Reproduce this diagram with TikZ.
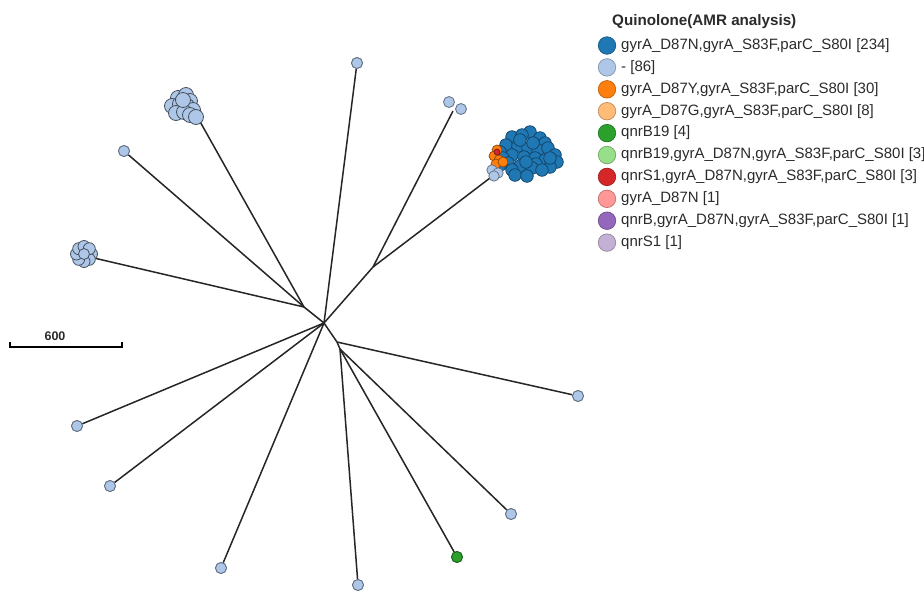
\documentclass[tikz,border=0pt]{standalone}
\usepackage{fontspec}
\setmainfont{Liberation Sans}
\usetikzlibrary{calc}
\definecolor{cA}{HTML}{1F77B4}
\definecolor{cB}{HTML}{AEC7E8}
\definecolor{cC}{HTML}{FF7F0E}
\definecolor{cD}{HTML}{FFBB78}
\definecolor{cE}{HTML}{2CA02C}
\definecolor{cF}{HTML}{98DF8A}
\definecolor{cG}{HTML}{D62728}
\definecolor{cH}{HTML}{FF9896}
\definecolor{cI}{HTML}{9467BD}
\definecolor{cJ}{HTML}{C5B0D5}
\definecolor{txt}{HTML}{2B2B2B}
\begin{document}
\begin{tikzpicture}[x=1pt,y=-1pt,
  branch/.style={draw=black!85,line width=1.5pt},
  leaf/.style={circle,fill=cB,draw=cB!55!black,line width=0.8pt,minimum size=11pt,inner sep=0pt},
  greenleaf/.style={leaf,fill=cE,draw=cE!60!black},
  dot/.style={fill=#1,draw=#1!55!black,line width=0.7pt},
  greydot/.style={fill=cB,draw=cB!40!black,line width=0.8pt},
  keydot/.style={circle,fill=#1,draw=#1!75!black,line width=0.7pt,minimum size=17.5pt,inner sep=0pt},
  keytext/.style={anchor=west,inner sep=0pt,text=txt,font=\fontsize{15}{17}\selectfont}]
\useasboundingbox[fill=white] (0,0) rectangle (924,590);

% internal junctions of the tree
\coordinate (c) at (324,323);
\coordinate (j1) at (304,307);
\coordinate (j2) at (373,267);
\coordinate (j3) at (337,342);
\coordinate (j4) at (340,349);
% attachment points of the grouped tips
\coordinate (ga) at (198,118);
\coordinate (gb) at (94,258);
\coordinate (gp) at (453,111);
\coordinate (gd) at (490,178);

% single tips
\node[leaf] (t1) at (357,63) {};
\node[leaf] (t2) at (124,151) {};
\node[leaf] (t3) at (578,396) {};
\node[leaf] (t4) at (77,426) {};
\node[leaf] (t5) at (110,486) {};
\node[leaf] (t6) at (221,568) {};
\node[leaf] (t7) at (358,585) {};
\node[greenleaf] (t8) at (457,557) {};
\node[leaf] (t9) at (511,514) {};

% branches
\draw[branch] (c) -- (j1);
\draw[branch] (j1) -- (ga);
\draw[branch] (j1) -- (t2);
\draw[branch] (j1) -- (gb);
\draw[branch] (c) -- (t1);
\draw[branch] (c) -- (j2);
\draw[branch] (j2) -- (gp);
\draw[branch] (j2) -- (gd);
\draw[branch] (c) -- (j3);
\draw[branch] (j3) -- (t3);
\draw[branch] (j3) -- (j4);
\draw[branch] (j4) -- (t7);
\draw[branch] (j4) -- (t8);
\draw[branch] (j4) -- (t9);
\draw[branch] (c) -- (t4);
\draw[branch] (c) -- (t5);
\draw[branch] (c) -- (t6);
% redraw tips over the branch ends
\foreach \p in {t1,t2,t3,t4,t5,t6,t7,t9}
  \node[leaf] at (\p) {};
\node[greenleaf] at (t8) {};

% pair of tips at the end of one branch
\node[leaf] (p1) at (449,102) {};
\node[leaf] (p2) at (461,109) {};

% group of tips, upper left
\foreach \x/\y in {178/98, 186/95, 190/101, 172/106, 180/104, 187/106, 193/110, 176/113, 184/112, 190/115, 196/117, 183/100}
  \draw[greydot] (\x,\y) circle (7.5);

% group of tips, left
\foreach \a in {0,45,...,315}
  \draw[greydot] ($(84,254)+(\a:7.5)$) circle (6);
\draw[greydot] (84,254) circle (5.5);

% large group of tips, upper right
\foreach \x/\y in {530/132, 512/137, 522/135, 540/138, 506/145, 518/146, 528/148, 545/143, 538/150, 548/148, 555/155, 557/162, 500/152, 512/155, 524/157, 535/158, 545/160, 550/167, 503/158, 508/163, 520/166, 536/164, 532/168, 542/170, 500/165, 512/170, 515/175, 527/176, 520/140, 533/143, 550/158, 526/162}
  \draw[dot=cA] (\x,\y) circle (6.3);
\foreach \x/\y in {497/150, 494/156, 499/160, 496/164, 503/162}
  \draw[dot=cC] (\x,\y) circle (5);
\draw[dot=cG] (497,152) circle (3);
\foreach \x/\y in {492/170, 498/173, 494/176}
  \draw[dot=cB] (\x,\y) circle (5.2);

% scale bar
\draw[line width=1.3pt] (10,342) -- (10,347) -- (122,347) -- (122,342);
\node[inner sep=0pt,text=txt,font=\fontsize{12.5}{14}\selectfont\bfseries] (sb) at (55,336) {600};

% legend
\node[anchor=west,inner sep=0pt,text=txt,font=\fontsize{15.2}{17}\selectfont\bfseries] (title) at (612,22) {Quinolone(AMR analysis)};
\foreach \c/\t [count=\i from 0] in {
  cA/{gyrA\_D87N,gyrA\_S83F,parC\_S80I [234]},
  cB/{- [86]},
  cC/{gyrA\_D87Y,gyrA\_S83F,parC\_S80I [30]},
  cD/{gyrA\_D87G,gyrA\_S83F,parC\_S80I [8]},
  cE/{qnrB19 [4]},
  cF/{qnrB19,gyrA\_D87N,gyrA\_S83F,parC\_S80I [3]},
  cG/{qnrS1,gyrA\_D87N,gyrA\_S83F,parC\_S80I [3]},
  cH/{gyrA\_D87N [1]},
  cI/{qnrB,gyrA\_D87N,gyrA\_S83F,parC\_S80I [1]},
  cJ/{qnrS1 [1]}}{
  \node[keydot=\c] (k\i) at (607,45.5+21.9*\i) {};
  \node[keytext] (kt\i) at (621,45.5+21.9*\i) {\t};
}
\end{tikzpicture}
\end{document}
